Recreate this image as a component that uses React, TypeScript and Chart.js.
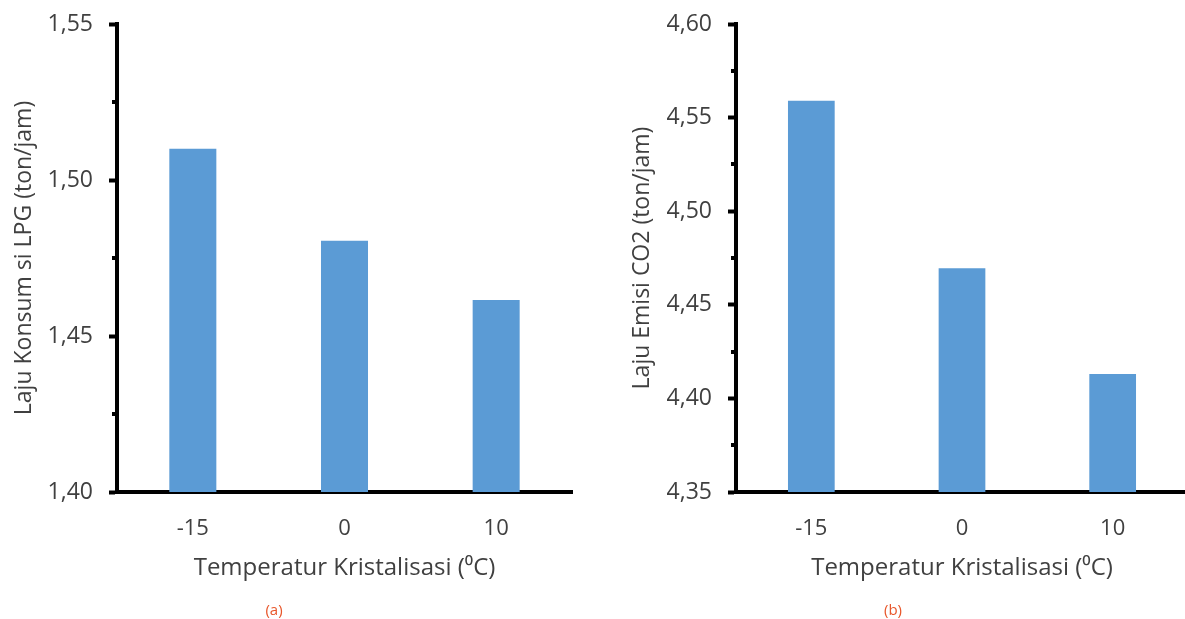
import React, { useEffect, useRef } from 'react';
import { Chart, registerables } from 'chart.js';

Chart.register(...registerables);

const categories = ['-15', '0', '10'];
const lpgValues = [1.510, 1.4805, 1.4615];
const co2Values = [4.559, 4.4695, 4.413];
const lpgAxis = { min: 1.40, max: 1.55, step: 0.05 };
const co2Axis = { min: 4.35, max: 4.60, step: 0.05 };
const lpgTitle = 'Laju Konsum si LPG (ton/jam)';
const co2Title = 'Laju Emisi CO2 (ton/jam)';
const xTitle = 'Temperatur Kristalisasi (⁰C)';
const panelLabels = ['(a)', '(b)'];

const FONT = "'Open Sans', 'DejaVu Sans', sans-serif";
const TEXT = '#404040';
const BAR = '#5b9bd5';

const minorTicks = {
  id: 'minorTicks',
  afterDraw(chart: any) {
    const y = chart.scales.y;
    const step = chart.options.scales.y.ticks.stepSize;
    const n = Math.round((y.max - y.min) / step);
    const ctx = chart.ctx;
    ctx.save();
    ctx.strokeStyle = '#000';
    ctx.lineWidth = 4;
    for (let i = 0; i < n; i++) {
      const py = Math.round(y.getPixelForValue(y.min + step * i + step / 2));
      ctx.beginPath();
      ctx.moveTo(y.right - 5, py);
      ctx.lineTo(y.right, py);
      ctx.stroke();
    }
    ctx.restore();
  },
};

type PanelProps = {
  left: number;
  width: number;
  values: number[];
  axis: { min: number; max: number; step: number };
  yTitle: string;
  yAxisWidth: number;
  padRight: number;
  titlePad: number;
};

function Panel({ left, width, values, axis, yTitle, yAxisWidth, padRight, titlePad }: PanelProps) {
  const ref = useRef<HTMLCanvasElement>(null);
  useEffect(() => {
    const chart = new Chart(ref.current as HTMLCanvasElement, {
      type: 'bar',
      data: {
        labels: categories,
        datasets: [
          {
            data: values,
            backgroundColor: BAR,
            barPercentage: 0.31,
            categoryPercentage: 1,
          },
        ],
      },
      options: {
        responsive: false,
        animation: false,
        layout: { padding: { top: 24, right: padRight, left: 0, bottom: 0 } },
        plugins: { legend: { display: false }, tooltip: { enabled: false } },
        scales: {
          x: {
            grid: { display: false, drawTicks: false },
            border: { display: true, color: '#000', width: 4 },
            ticks: { color: TEXT, font: { family: FONT, size: 22 }, padding: 24 },
            title: {
              display: true,
              text: xTitle,
              color: TEXT,
              font: { family: FONT, size: 24 },
              padding: { top: 0, bottom: 36 },
            },
            afterFit: (s: any) => {
              s.height = 127;
            },
          },
          y: {
            min: axis.min,
            max: axis.max,
            ticks: {
              stepSize: axis.step,
              color: TEXT,
              font: { family: FONT, size: 23, lineHeight: 0.6 },
              padding: 16,
              callback: (v: any) => Number(v).toFixed(2).replace('.', ','),
            },
            grid: {
              display: true,
              drawOnChartArea: false,
              drawTicks: true,
              tickLength: 8,
              tickWidth: 4,
              tickColor: '#000',
            },
            border: { display: true, color: '#000', width: 4 },
            title: {
              display: true,
              text: yTitle,
              color: TEXT,
              font: { family: FONT, size: 23 },
              padding: { top: titlePad, bottom: 0 },
            },
            afterFit: (s: any) => {
              s.width = yAxisWidth;
            },
          },
        },
      },
      plugins: [minorTicks],
    } as any);
    return () => chart.destroy();
  }, []);
  return (
    <canvas
      ref={ref}
      width={width}
      height={619}
      style={{ position: 'absolute', left, top: 0, width, height: 619 }}
    />
  );
}

export default function App() {
  return (
    <div
      style={{
        position: 'absolute',
        left: 0,
        top: 0,
        width: 1185,
        height: 619,
        overflow: 'hidden',
        background: '#fff',
      }}
    >
      <Panel left={0} width={590} values={lpgValues} axis={lpgAxis} yTitle={lpgTitle} yAxisWidth={117} padRight={18} titlePad={11} />
      <Panel left={595} width={600} values={co2Values} axis={co2Axis} yTitle={co2Title} yAxisWidth={141} padRight={7} titlePad={34} />
      {panelLabels.map((t, i) => (
        <div
          key={t}
          style={{
            position: 'absolute',
            left: i === 0 ? 274 : 893,
            top: 609,
            transform: 'translate(-50%, -50%)',
            fontFamily: FONT,
            fontSize: 15,
            color: '#e8562a',
            whiteSpace: 'nowrap',
          }}
        >
          {t}
        </div>
      ))}
    </div>
  );
}
